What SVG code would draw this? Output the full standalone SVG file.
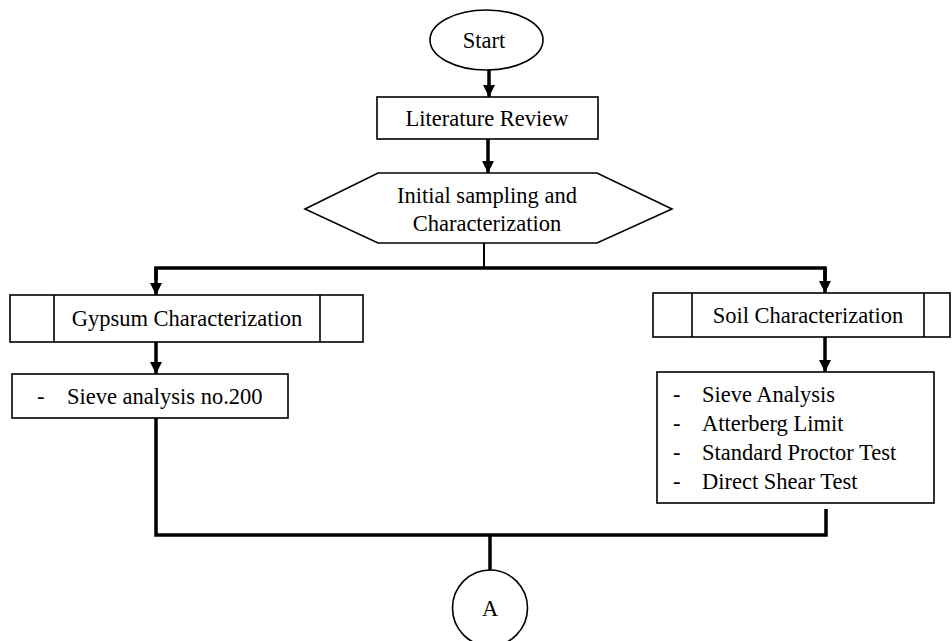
<svg xmlns="http://www.w3.org/2000/svg" width="952" height="641" viewBox="0 0 952 641">
<style>
.box{fill:#fff;stroke:#000;stroke-width:1.6}
.t{font-family:"Liberation Serif","Times New Roman",serif;font-size:22.5px;fill:#000}
.c{text-anchor:middle}
.thick{stroke:#000;stroke-width:3.5;fill:none}
.thin{stroke:#000;stroke-width:2;fill:none}
</style>
<defs>
<marker id="down" markerUnits="userSpaceOnUse" markerWidth="14" markerHeight="14" refX="7" refY="13" orient="0" viewBox="0 0 14 14">
<path d="M1,1 L13,1 L7,13 Z" fill="#000"/>
</marker>
</defs>
<rect width="952" height="641" fill="#fff"/>
<g id="connectors">
<line class="thick" x1="489" y1="70" x2="489" y2="97" marker-end="url(#down)"/>
<line class="thick" x1="488" y1="139" x2="488" y2="173" marker-end="url(#down)"/>
<line class="thin" x1="484" y1="243" x2="484" y2="268"/>
<polyline class="thick" points="156,280 156,268 825,268 825,280"/>
<line class="thick" x1="156" y1="268" x2="156" y2="295" marker-end="url(#down)"/>
<line class="thick" x1="825" y1="268" x2="825" y2="293" marker-end="url(#down)"/>
<line class="thick" x1="156" y1="342" x2="156" y2="374" marker-end="url(#down)"/>
<line class="thick" x1="825" y1="337" x2="825" y2="372" marker-end="url(#down)"/>
<polyline class="thick" points="156,418 156,535 826,535 826,509"/>
<line class="thick" x1="490" y1="535" x2="490" y2="571"/>
</g>
<g id="start">
<ellipse class="box" cx="486.5" cy="40" rx="56.5" ry="30"/>
<text class="t c" x="484" y="48">Start</text>
</g>
<g id="literature-review">
<rect class="box" x="377" y="97" width="221" height="42"/>
<text class="t c" x="487" y="126">Literature Review</text>
</g>
<g id="initial-sampling">
<polygon class="box" points="305,209 378,173 597,173 672,209 597,243 378,243"/>
<text class="t c" x="487" y="203">Initial sampling and</text>
<text class="t c" x="487" y="231">Characterization</text>
</g>
<g id="gypsum-characterization">
<rect class="box" x="10" y="295" width="353" height="47"/>
<line class="box" x1="54" y1="295" x2="54" y2="342"/>
<line class="box" x1="320" y1="295" x2="320" y2="342"/>
<text class="t c" x="187" y="326">Gypsum Characterization</text>
</g>
<g id="soil-characterization">
<rect class="box" x="653" y="293" width="297" height="44"/>
<line class="box" x1="692" y1="293" x2="692" y2="337"/>
<line class="box" x1="924" y1="293" x2="924" y2="337"/>
<text class="t c" x="808" y="323">Soil Characterization</text>
</g>
<g id="gypsum-tests">
<rect class="box" x="12" y="374" width="276" height="44"/>
<text class="t" x="37" y="404">-</text>
<text class="t" x="67" y="404">Sieve analysis no.200</text>
</g>
<g id="soil-tests">
<rect class="box" x="657" y="372" width="277" height="131"/>
<text class="t" x="673" y="402">-</text>
<text class="t" x="702" y="402">Sieve Analysis</text>
<text class="t" x="673" y="431">-</text>
<text class="t" x="702" y="431">Atterberg Limit</text>
<text class="t" x="673" y="460">-</text>
<text class="t" x="702" y="460">Standard Proctor Test</text>
<text class="t" x="673" y="489">-</text>
<text class="t" x="702" y="489">Direct Shear Test</text>
</g>
<g id="connector-a">
<ellipse class="box" cx="490" cy="608" rx="37.5" ry="38" stroke-width="2"/>
<text class="t c" x="490" y="616">A</text>
</g>
</svg>
